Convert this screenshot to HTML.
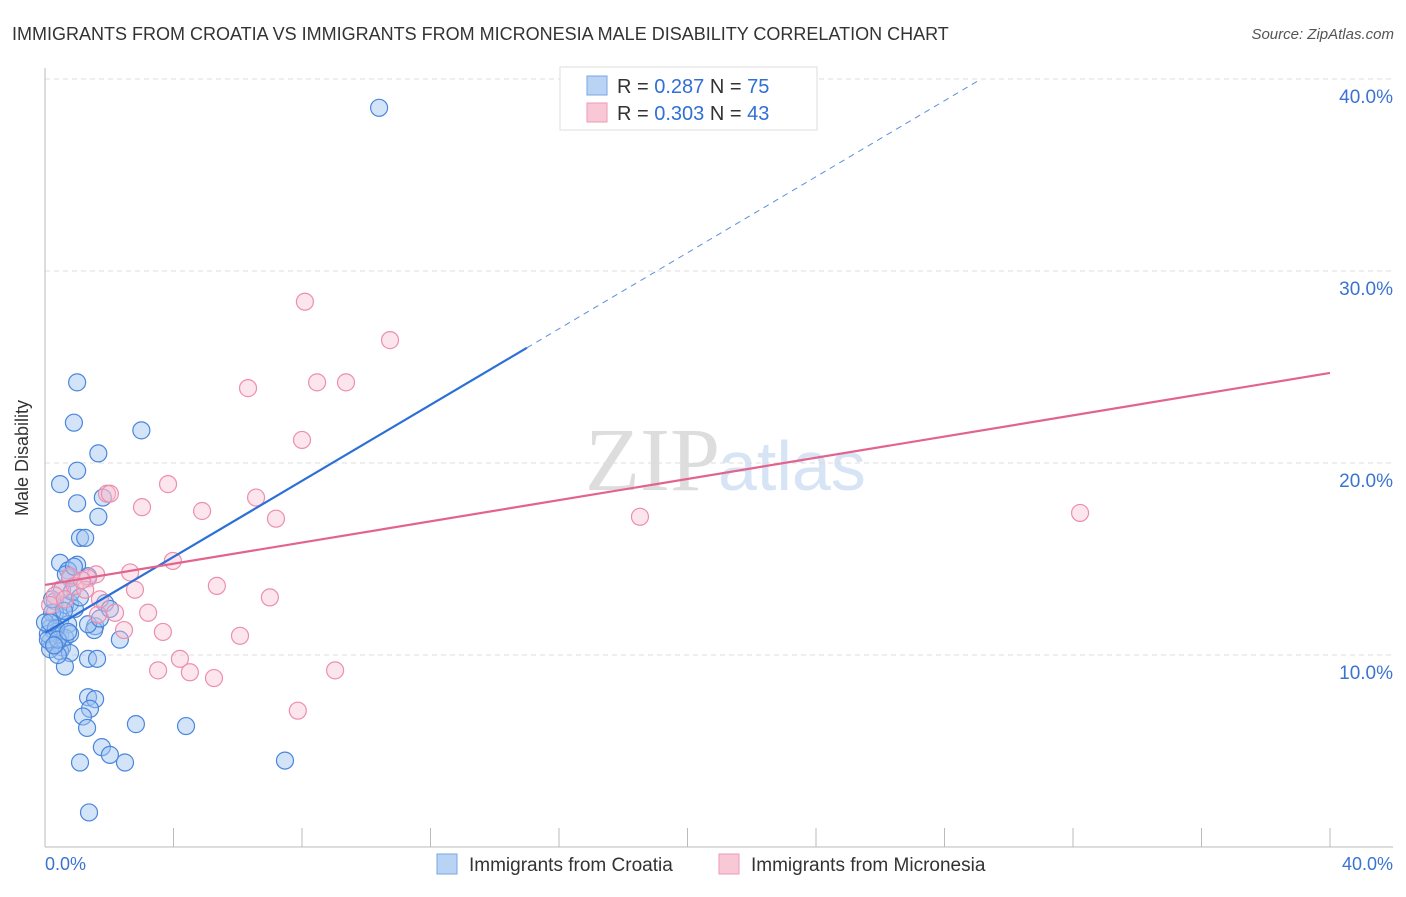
<!DOCTYPE html>
<html><head><meta charset="utf-8"><style>
body{margin:0;background:#fff;font-family:"Liberation Sans",sans-serif}
</style></head><body>
<svg width="1406" height="892" xmlns="http://www.w3.org/2000/svg" font-family="Liberation Sans, sans-serif">
<text x="12" y="40" font-size="18" fill="#333">IMMIGRANTS FROM CROATIA VS IMMIGRANTS FROM MICRONESIA MALE DISABILITY CORRELATION CHART</text>
<text x="1394" y="39" font-size="15" fill="#555" font-style="italic" text-anchor="end">Source: ZipAtlas.com</text>
<text x="720" y="490" font-size="90" fill="#ddd" font-family="Liberation Serif, serif" text-anchor="end">ZIP</text>
<text x="718" y="490" font-size="70" fill="#d6e4f5">atlas</text>
<g id="grid"></g>
<line x1="45" y1="68" x2="45" y2="847" stroke="#bbb"/>
<line x1="45" y1="847" x2="1393" y2="847" stroke="#bbb"/>
<g id="ticks"></g>
<text x="25" y="455" font-size="18" fill="#333" text-anchor="middle" transform="rotate(-90 28 455)">Male Disability</text>
<text x="45" y="870" font-size="18" fill="#3b73d1">0.0%</text>
<text x="1393" y="870" font-size="18" fill="#3b73d1" text-anchor="end">40.0%</text>
<g id="pts"></g>
<g id="lines"></g>
<g>
<rect x="560" y="67" width="257" height="63" fill="#fff" stroke="#ddd"/>
<rect x="587" y="76" width="20" height="19" fill="#b9d3f5" stroke="#7aa6e3"/>
<rect x="587" y="103" width="20" height="19" fill="#f9c8d7" stroke="#ee9ab4"/>
<text x="617" y="93" font-size="20" fill="#333">R = <tspan fill="#2f6fd6">0.287</tspan>   N = <tspan fill="#2f6fd6">75</tspan></text>
<text x="617" y="120" font-size="20" fill="#333">R = <tspan fill="#2f6fd6">0.303</tspan>   N = <tspan fill="#2f6fd6">43</tspan></text>
</g>
<g>
<rect x="437" y="854" width="20" height="20" fill="#b9d3f5" stroke="#7aa6e3"/>
<text x="469" y="871" font-size="19" fill="#333">Immigrants from Croatia</text>
<rect x="719" y="854" width="20" height="20" fill="#f9c8d7" stroke="#ee9ab4"/>
<text x="751" y="871" font-size="19" fill="#333">Immigrants from Micronesia</text>
</g>
</svg>
<script>
const yTicks=[10,20,30,40];
const yTickLabels=["10.0%","20.0%","30.0%","40.0%"];
const xTicks=[0,4,8,12,16,20,24,28,32,36,40];
const croatiaX=[10.4,1,0.9,3,1.66,1,0.47,1.8,1,1.66,1.09,1.25,0.47,1,0.72,0.78,1.34,0.31,0.78,0.62,0.93,1.87,0.31,0.47,0.72,0.16,0.31,0.47,0.62,0.16,0.31,0.53,0.78,1.56,1.53,1.34,2.33,0.47,0.78,1.34,1.62,0.62,1.34,1.56,1.4,1.18,1.31,2.83,4.39,1.77,2.02,2.49,1.09,7.47,1.37,0.16,0.09,0.22,0,0.4,0.53,0.84,1.09,0.09,0.22,0.65,0.9,0.34,0.59,1.71,2.02,0.4,0.16,0.28,0.72];
const croatiaY=[38.5,24.2,22.1,21.7,20.5,19.6,18.9,18.2,17.9,17.2,16.1,16.1,14.8,14.7,14.4,14,14.1,12.8,12.7,12.6,12.4,12.7,12.2,11.8,11.6,11.4,11.2,11,10.9,10.7,10.5,10.4,11.1,11.5,11.3,11.6,10.8,10.2,10.1,9.8,9.8,9.4,7.8,7.7,7.2,6.8,6.2,6.4,6.3,5.2,4.8,4.4,4.4,4.5,1.8,10.3,11.1,12.2,11.7,10,13.4,13.3,13,10.8,12.9,14.2,14.6,11.4,12.3,11.9,12.4,10.8,11.7,10.5,11.2];
const micronesiaX=[8.09,10.74,6.32,8.47,9.37,8.0,3.83,1.93,3.02,4.89,6.57,7.19,18.52,32.22,3.98,2.65,1.59,0.78,1.34,5.35,2.8,7.0,3.21,2.18,1.65,2.46,3.67,6.07,0.47,0.31,0.93,1.25,0.16,3.52,4.2,4.51,5.26,9.03,7.87,1.15,1.71,0.62,2.02];
const micronesiaY=[28.4,26.4,23.9,24.2,24.2,21.2,18.9,18.4,17.7,17.5,18.2,17.1,17.2,17.4,14.9,14.3,14.2,14.1,14,13.6,13.4,13,12.2,12.2,12.1,11.3,11.2,11,13.4,13.1,13.6,13.4,12.6,9.2,9.8,9.1,8.8,9.2,7.1,13.9,12.9,12.9,18.4];
const croatiaFit=[11.15,26.0];   // y at x=0, y at x=15
const micronesiaFit=[13.65,24.69]; // y at x=0, y at x=40
const NS="http://www.w3.org/2000/svg";
const X=v=>45+v*32.125, Y=v=>847-v*19.2;
function mk(tag,attrs,parent){const e=document.createElementNS(NS,tag);for(const k in attrs)e.setAttribute(k,attrs[k]);document.getElementById(parent).appendChild(e);return e;}
yTicks.forEach((t,i)=>{
 const g=mk('line',{x1:45,x2:1393,y1:Y(t),y2:Y(t),stroke:'#ddd','stroke-dasharray':'5,4'},'grid');
 
 
 const l=mk('text',{x:1393,y:Y(t)+24,'font-size':19,fill:'#3b73d1','text-anchor':'end'},'ticks');
 l.textContent=yTickLabels[i];
 
 
});
xTicks.forEach(t=>{
 const l=mk('line',{x1:X(t),x2:X(t),y1:828,y2:847,stroke:'#bbb'},'ticks');
 
 
});
croatiaX.forEach((v,i)=>{
 const c=mk('circle',{cx:X(v),cy:Y(croatiaY[i]),r:8.5,fill:'rgba(160,196,240,0.45)',stroke:'#4a86dc','stroke-width':1.2},'pts');
 
 
});
micronesiaX.forEach((v,i)=>{
 const c=mk('circle',{cx:X(v),cy:Y(micronesiaY[i]),r:8.5,fill:'rgba(248,190,208,0.4)',stroke:'#ec8fae','stroke-width':1.2},'pts');
 
 
});
const slope=(croatiaFit[1]-croatiaFit[0])/15;
let e=mk('line',{x1:X(0),y1:Y(croatiaFit[0]),x2:X(15),y2:Y(croatiaFit[1]),stroke:'#2c6fd6','stroke-width':2.2},'lines');


e=mk('line',{x1:X(15),y1:Y(croatiaFit[1]),x2:X(29.1),y2:Y(croatiaFit[0]+slope*29.1),stroke:'#5b8fdc','stroke-width':1,'stroke-dasharray':'6,5'},'lines');


e=mk('line',{x1:X(0),y1:Y(micronesiaFit[0]),x2:X(40),y2:Y(micronesiaFit[1]),stroke:'#e2648e','stroke-width':2.2},'lines');


</script>
</body></html>
